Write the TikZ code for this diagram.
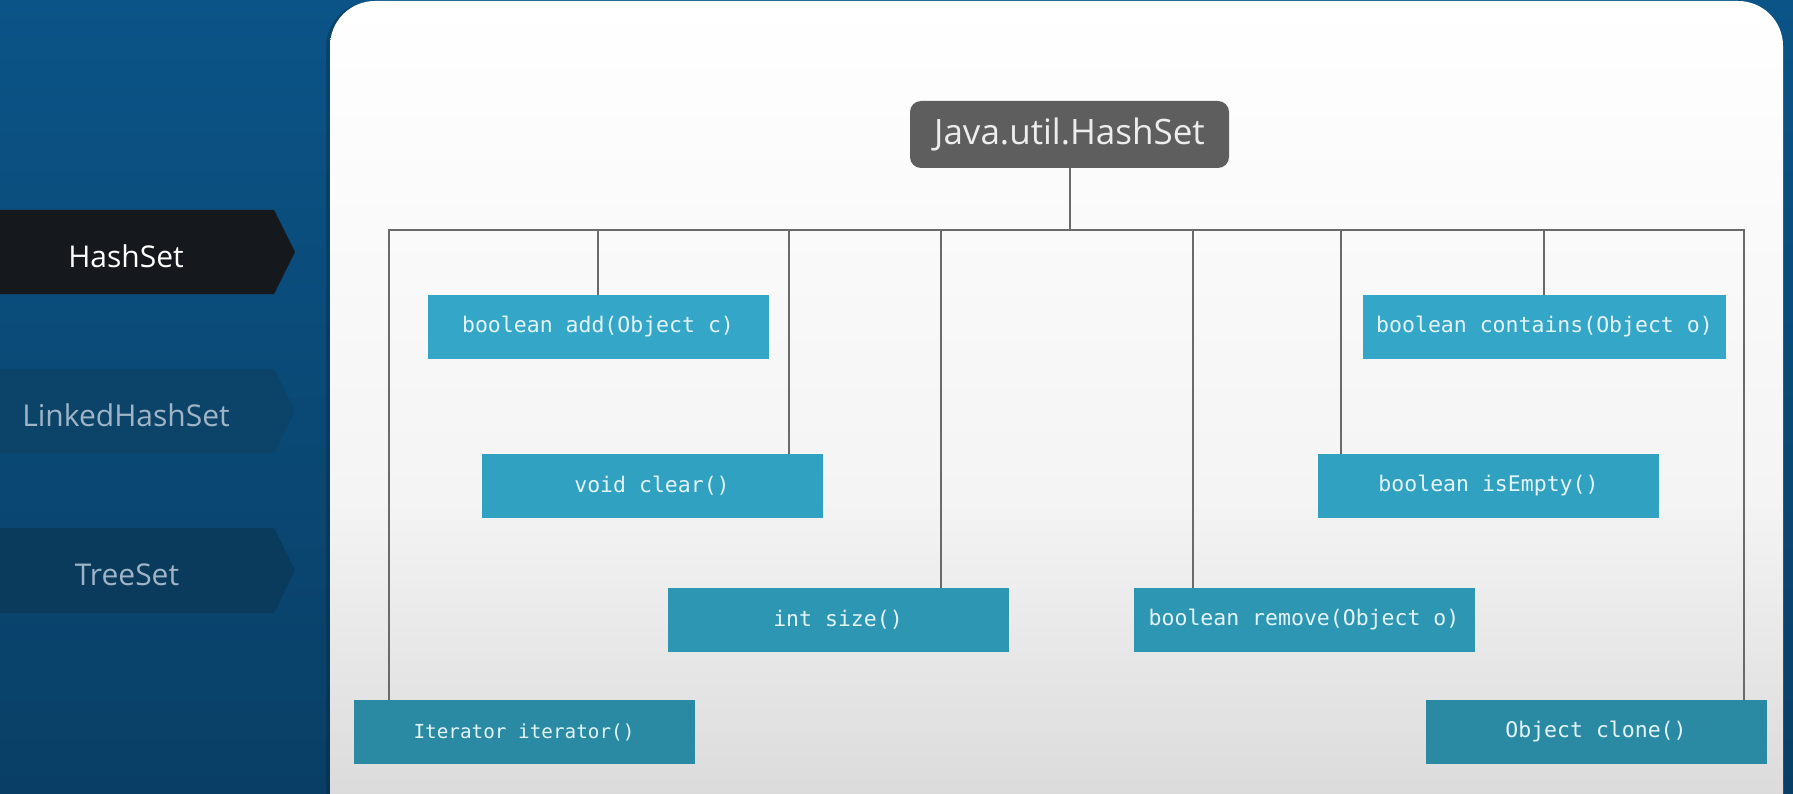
\documentclass[tikz,border=0pt]{standalone}
\usepackage{fontspec}
\setmainfont{Open Sans}
\setmonofont{DejaVu Sans Mono}
\definecolor{bgtop}{HTML}{0B5487}
\definecolor{bgbot}{HTML}{093F66}
\definecolor{tabblack}{HTML}{15191D}
\definecolor{tabmid}{HTML}{0C4469}
\definecolor{tablow}{HTML}{0A3A5C}
\definecolor{tabtxt}{HTML}{9FB4C6}
\definecolor{rootfill}{HTML}{5E5E5E}
\definecolor{roottxt}{HTML}{EDEDED}
\definecolor{boxA}{HTML}{34A7C8}
\definecolor{boxB}{HTML}{31A1C2}
\definecolor{boxC}{HTML}{2D97B3}
\definecolor{boxD}{HTML}{2A8AA3}
\definecolor{boxtxt}{HTML}{E4F3F8}
\definecolor{linec}{HTML}{6A6A6A}
\definecolor{panelbot}{HTML}{CACACA}
\definecolor{panelmid}{HTML}{F4F4F4}
\tikzset{
  tabtext/.style={font=\fontsize{30}{34}\selectfont, anchor=center, inner sep=0pt},
  rootbox/.style={rectangle, rounded corners=11pt, fill=rootfill, text=roottxt,
    minimum width=319pt, minimum height=67pt, inner sep=0pt,
    font=\fontsize{35}{40}\selectfont},
  mbox/.style={rectangle, minimum width=341pt, minimum height=64pt, inner sep=0pt,
    text=boxtxt, font=\ttfamily\fontsize{21.5}{24}\selectfont},
  conn/.style={draw=linec, line width=2pt}
}
\begin{document}
\begin{tikzpicture}[x=1pt,y=-1pt]
\useasboundingbox (0,0) rectangle (1793,794);
% background
\shade[top color=bgtop, bottom color=bgbot] (0,0) rectangle (1793,794);
% tabs
\fill[tabblack] (-2,210) -- (274,210) -- (295,252) -- (274,294) -- (-2,294) -- cycle;
\fill[tabmid] (-2,369) -- (274,369) -- (295,411) -- (274,453) -- (-2,453) -- cycle;
\fill[tablow] (-2,528) -- (274,528) -- (295,570) -- (274,613) -- (-2,613) -- cycle;
\node[tabtext, text=white] (tHash) at (126,256) {HashSet};
\node[tabtext, text=tabtxt] (tLinked) at (126,415) {LinkedHashSet};
\node[tabtext, text=tabtxt] (tTree) at (127,575) {TreeSet};
% panel shadow and panel
\fill[black, opacity=0.18, rounded corners=45pt] (326,2) -- (1779,2) -- (1779,840) -- (326,840) -- cycle;
\shade[rounded corners=45pt, top color=white, bottom color=panelbot, middle color=panelmid]
  (330,1) -- (1783,1) -- (1783,1000) -- (330,1000) -- cycle;
% root
\node[rootbox] (root) at (1069.5,134.5) {Java.util.HashSet};
% method boxes
\node[mbox, fill=boxA] (add) at (598,327) {boolean add(Object c)};
\node[mbox, fill=boxB] (clear) at (652,486) {void clear()};
\node[mbox, fill=boxC] (size) at (838,620) {int size()};
\node[mbox, fill=boxD, font=\ttfamily\fontsize{19.3}{22}\selectfont] (iter) at (524,732) {Iterator iterator()};
\node[mbox, fill=boxA, minimum width=363pt] (contains) at (1544.5,327) {boolean contains(Object o)};
\node[mbox, fill=boxB] (isEmpty) at (1488.5,486) {boolean isEmpty()};
\node[mbox, fill=boxC] (remove) at (1304,620) {boolean remove(Object o)};
\node[mbox, fill=boxD] (clone) at (1596,732) {Object clone()};
% bus
\coordinate (busL) at (389,230);
\coordinate (busR) at (1744,230);
\coordinate (dAdd) at (598,230);
\coordinate (dClear) at (789,230);
\coordinate (dSize) at (941,230);
\coordinate (dContains) at (1544,230);
\coordinate (dIsEmpty) at (1341,230);
\coordinate (dRemove) at (1193,230);
\draw[conn] (busL |- iter.north) -- (busL) -- (busR) -- (busR |- clone.north);
\draw[conn] (root.south) -- (root.south |- busL);
\draw[conn] (dAdd) -- (dAdd |- add.north);
\draw[conn] (dClear) -- (dClear |- clear.north);
\draw[conn] (dSize) -- (dSize |- size.north);
\draw[conn] (dContains) -- (dContains |- contains.north);
\draw[conn] (dIsEmpty) -- (dIsEmpty |- isEmpty.north);
\draw[conn] (dRemove) -- (dRemove |- remove.north);
\end{tikzpicture}
\end{document}
